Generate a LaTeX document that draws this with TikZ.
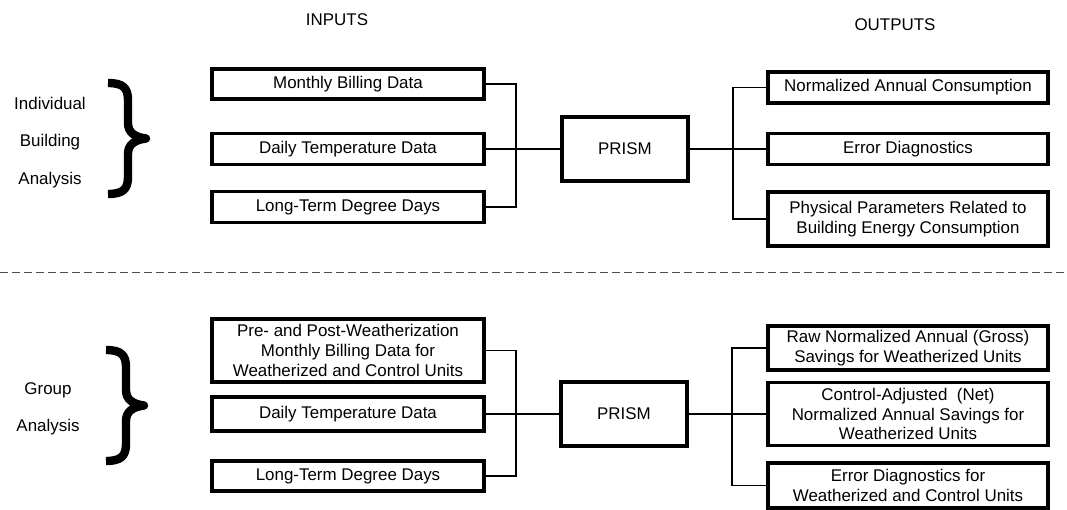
\documentclass[tikz,border=0pt]{standalone}
\usepackage{fontspec}
\setmainfont{Liberation Sans}
\begin{document}
\begin{tikzpicture}[x=0.75pt,y=-0.75pt,
  every node/.style={font=\fontsize{12.7}{14.8}\selectfont, inner sep=1pt},
  databox/.style={draw, line width=2.3pt, align=center, minimum width=204pt},
  outbox/.style={draw, line width=2.3pt, align=center, minimum width=210pt},
  prismbox/.style={draw, line width=2.3pt, minimum width=94.5pt, minimum height=48pt},
  link/.style={line width=0.8pt},
  bracestyle/.style={line width=6.3pt, line join=round},
  sep/.style={line width=0.6pt, dash pattern=on 6pt off 3pt, black!70},
  head/.style={},
  sidelabel/.style={align=center, font=\fontsize{12.7}{28}\selectfont}]
\useasboundingbox (0,0) rectangle (1067,510);

% headings
\node[head] (inputs) at (337,20) {INPUTS};
\node[head] (outputs) at (895,25) {OUTPUTS};

% ---------- Individual building analysis ----------
\node[sidelabel] (lab1) at (50,142.5) {Individual\\Building\\Analysis};
\draw[bracestyle] (108,83) .. controls (123,83) and (128,88) .. (128,100) -- (128,123)
  .. controls (128,132) and (134,137) .. (146,138.5)
  .. controls (134,140) and (128,145) .. (128,154) -- (128,177)
  .. controls (128,189) and (123,194) .. (108,194);

\node[databox, minimum height=22.5pt] (m1) at (348,84) {Monthly Billing Data};
\node[databox, minimum height=23.25pt] (d1) at (348,149) {Daily Temperature Data};
\node[databox, minimum height=23.25pt] (l1) at (348,207) {Long-Term Degree Days};
\node[prismbox] (p1) at (625,149) {PRISM};
\node[outbox, minimum height=23.25pt] (o1) at (908,87.5) {Normalized Annual Consumption};
\node[outbox, minimum height=23.25pt] (o2) at (908,149) {Error Diagnostics};
\node[outbox, minimum height=40.5pt] (o3) at (908,219) {Physical Parameters Related to\\Building Energy Consumption};

\coordinate (j1) at (516,149);
\coordinate (k1) at (733,149);
\draw[link] (m1.east) -| (j1);
\draw[link] (l1.east) -| (j1);
\draw[link] (d1.east) -- (p1.west);
\draw[link] (p1.east) -- (o2.west);
\draw[link] (o1.west) -| (k1);
\draw[link] (o3.west) -| (k1);

% separator
\coordinate (s1) at (0,272);
\coordinate (s2) at (1067,272);
\draw[sep] (s1) -- (s2);

% ---------- Group analysis ----------
\node[sidelabel] (lab2) at (48,409) {Group\\Analysis};
\draw[bracestyle] (106,350) .. controls (121,350) and (126,355) .. (126,367) -- (126,390)
  .. controls (126,399) and (132,404) .. (144,405.5)
  .. controls (132,407) and (126,412) .. (126,421) -- (126,444)
  .. controls (126,456) and (121,461) .. (106,461);

\node[databox, minimum height=47.25pt] (m2) at (348,350.5) {Pre- and Post-Weatherization\\Monthly Billing Data for\\Weatherized and Control Units};
\node[databox, minimum height=25.5pt] (d2) at (348,414) {Daily Temperature Data};
\node[databox, minimum height=22.5pt] (l2) at (348,476) {Long-Term Degree Days};
\node[prismbox] (p2) at (624,414) {PRISM};
\node[outbox, minimum height=33pt] (o4) at (908,348) {Raw Normalized Annual (Gross)\\Savings for Weatherized Units};
\node[outbox, minimum height=47.25pt] (o5) at (908,414) {Control-Adjusted~~(Net)\\Normalized Annual Savings for\\Weatherized Units};
\node[outbox, minimum height=33.75pt] (o6) at (908,485.5) {Error Diagnostics for\\Weatherized and Control Units};

\coordinate (j2) at (516,414);
\coordinate (k2) at (732,414);
\draw[link] (m2.east) -| (j2);
\draw[link] (l2.east) -| (j2);
\draw[link] (d2.east) -- (p2.west);
\draw[link] (p2.east) -- (o5.west);
\draw[link] (o4.west) -| (k2);
\draw[link] (o6.west) -| (k2);
\end{tikzpicture}
\end{document}
